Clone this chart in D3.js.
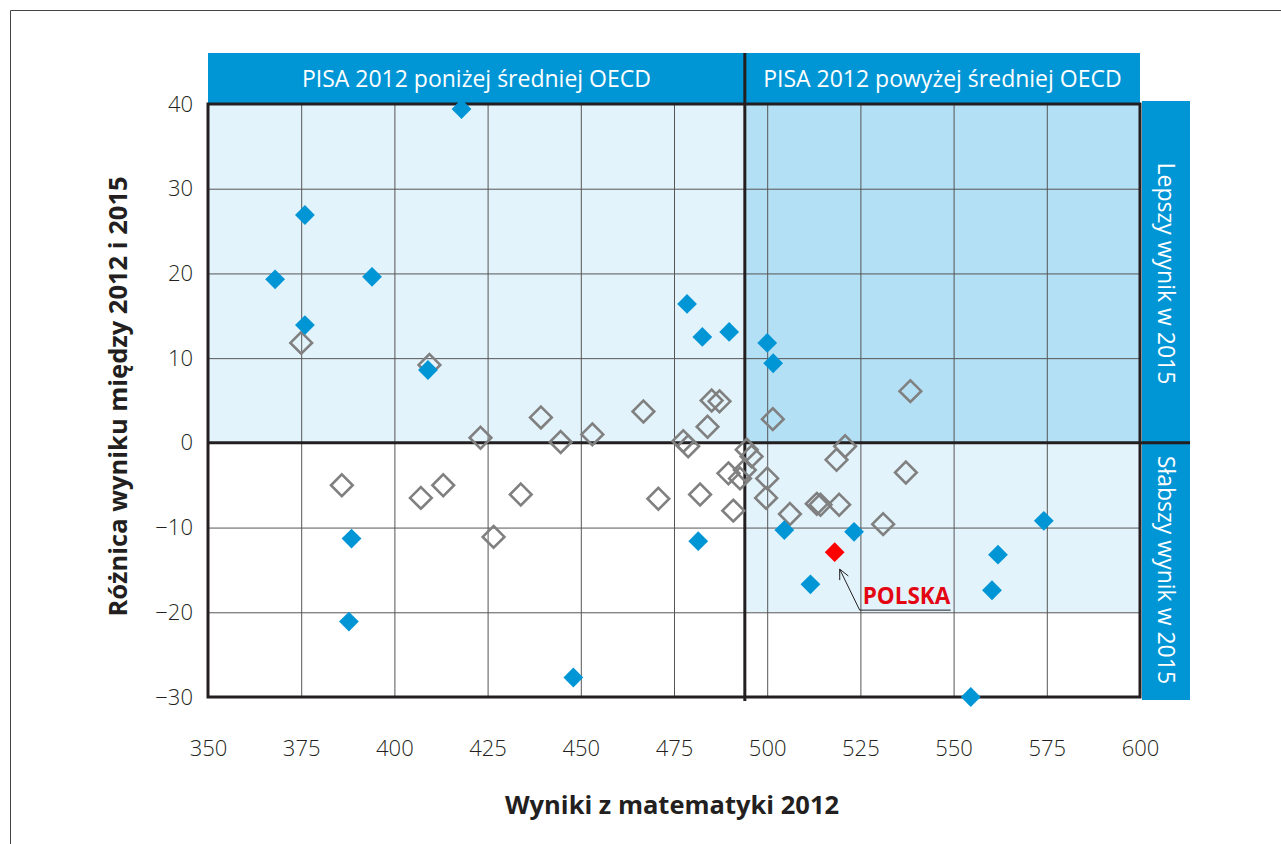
<!DOCTYPE html>
<html>
<head>
<meta charset="utf-8">
<script src="https://cdn.jsdelivr.net/npm/d3@7"></script>
<style>
  body { margin: 0; background: #fff; }
  svg { display: block; font-family: "Open Sans", "Noto Sans", sans-serif; }
  .tick text { fill: #231f20; font-size: 22px; font-weight: 300; font-family: "Open Sans", "Noto Sans", sans-serif; }
  .grid line { stroke: #555; stroke-width: 1; }
  .grid path { display: none; }
</style>
</head>
<body>
<svg width="1281" height="844"></svg>
<script>
// wyniki istotnie zmienione (niebieskie)
var sigMath = [418, 376, 368, 394, 376, 409, 478.5, 482.6, 489.8, 500, 501.6, 504.6, 523.3, 511.6, 481.5, 448, 388.5, 387.8, 574.2, 561.9, 560.3, 554.6];
var sigDiff = [39.4, 26.9, 19.3, 19.6, 13.9, 8.6, 16.4, 12.5, 13.1, 11.8, 9.4, -10.3, -10.5, -16.7, -11.6, -27.7, -11.3, -21.1, -9.2, -13.2, -17.4, -30];

// zmiany nieistotne (puste romby)
var nsMath = [375, 409.4, 423.1, 439.3, 444.6, 453.1, 466.8, 485.1, 487.2, 484, 477.5, 478.8, 501.5, 538.4, 494.5, 495.8, 489.6, 492.7, 494, 500, 499.7, 470.8, 482, 490.9, 506.1, 513.3, 514.3, 519.3, 518.6, 520.9, 537.2, 531.1, 385.9, 407.1, 413.1, 433.9, 426.6];
var nsDiff = [11.8, 9.2, 0.6, 3.0, 0.1, 1.0, 3.7, 5.0, 4.9, 1.9, 0.2, -0.4, 2.8, 6.1, -0.8, -1.6, -3.6, -4.2, -3.2, -4.2, -6.5, -6.6, -6.1, -8.0, -8.4, -7.2, -7.3, -7.3, -2.0, -0.4, -3.5, -9.6, -5.0, -6.5, -5.0, -6.1, -11.1];

var poland = {math: 518.1, diff: -12.9, label: 'POLSKA'};
var oecdMean = 494;

var xTicks = [350, 375, 400, 425, 450, 475, 500, 525, 550, 575, 600];
var yTicks = [-30, -20, -10, 0, 10, 20, 30, 40];

var svg = d3.select('svg');

var xScale = d3.scaleLinear().domain([350, 600]).range([208, 1140]),
    yScale = d3.scaleLinear().domain([-30, 40]).range([697, 104]);

var x0 = xScale(350), x1 = xScale(600),
    yTop = yScale(40), yBot = yScale(-30),
    xm = xScale(oecdMean), y0 = yScale(0), yLow = yScale(-20);

var blue = '#0096d6';

// ramka obrazka
svg.append('path')
  .attr('d', 'M10.5,844 V10.5 H1281')
  .attr('fill', 'none')
  .attr('stroke', '#444')
  .attr('stroke-width', 1);

// tla cwiartek
svg.append('rect').attr('x', x0).attr('y', yTop).attr('width', xm - x0).attr('height', y0 - yTop).attr('fill', '#e3f3fb');
svg.append('rect').attr('x', xm).attr('y', yTop).attr('width', x1 - xm).attr('height', y0 - yTop).attr('fill', '#b3e0f4');
svg.append('rect').attr('x', xm).attr('y', y0).attr('width', x1 - xm).attr('height', yLow - y0).attr('fill', '#e3f3fb');

// siatka
svg.append('g')
  .attr('class', 'grid')
  .attr('transform', 'translate(0,' + yBot + ')')
  .call(d3.axisBottom(xScale).tickValues(xTicks.slice(1, -1)).tickSize(-(yBot - yTop)).tickFormat(''));
svg.append('g')
  .attr('class', 'grid')
  .attr('transform', 'translate(' + x0 + ',0)')
  .call(d3.axisLeft(yScale).tickValues(yTicks.slice(1, -1)).tickSize(-(x1 - x0)).tickFormat(''));

// naglowki
svg.append('rect').attr('x', x0).attr('y', 53).attr('width', x1 - x0).attr('height', yTop - 53).attr('fill', blue);
svg.append('rect').attr('x', x1 + 2).attr('y', yTop - 3).attr('width', 48).attr('height', yBot - yTop + 6).attr('fill', blue);

svg.append('text')
  .attr('x', (x0 + xm) / 2).attr('y', 87)
  .attr('text-anchor', 'middle').attr('fill', '#fff').style('font-size', '23px')
  .text('PISA 2012 poniżej średniej OECD');
svg.append('text')
  .attr('x', (xm + x1) / 2).attr('y', 87)
  .attr('text-anchor', 'middle').attr('fill', '#fff').style('font-size', '23px')
  .text('PISA 2012 powyżej średniej OECD');

svg.append('text')
  .attr('transform', 'translate(' + (x1 + 18) + ',' + ((yTop + y0) / 2) + ') rotate(90)')
  .attr('text-anchor', 'middle').attr('fill', '#fff').style('font-size', '23px')
  .text('Lepszy wynik w 2015');
svg.append('text')
  .attr('transform', 'translate(' + (x1 + 18) + ',' + ((y0 + yBot) / 2) + ') rotate(90)')
  .attr('text-anchor', 'middle').attr('fill', '#fff').style('font-size', '23px')
  .text('Słabszy wynik w 2015');

// ramka wykresu i linie podzialu
svg.append('rect')
  .attr('x', x0).attr('y', yTop).attr('width', x1 - x0).attr('height', yBot - yTop)
  .attr('fill', 'none').attr('stroke', '#231f20').attr('stroke-width', 3);
svg.append('line')
  .attr('x1', xm).attr('x2', xm).attr('y1', 53).attr('y2', yBot + 4)
  .attr('stroke', '#231f20').attr('stroke-width', 3);
svg.append('line')
  .attr('x1', x0).attr('x2', x1 + 50).attr('y1', y0).attr('y2', y0)
  .attr('stroke', '#231f20').attr('stroke-width', 3);

// osie
var xAxis = svg.append('g')
  .attr('transform', 'translate(0,' + (yBot + 43) + ')')
  .call(d3.axisBottom(xScale).tickValues(xTicks).tickSize(0).tickPadding(0));
xAxis.select('.domain').remove();

var yAxis = svg.append('g')
  .attr('transform', 'translate(' + (x0 - 15) + ',0)')
  .call(d3.axisLeft(yScale).tickValues(yTicks).tickSize(0).tickPadding(0));
yAxis.select('.domain').remove();

svg.append('text')
  .attr('x', (x0 + x1) / 2 - 2).attr('y', 814)
  .attr('text-anchor', 'middle').attr('fill', '#231f20')
  .style('font-size', '25.5px').style('font-weight', 'bold')
  .text('Wyniki z matematyki 2012');

svg.append('text')
  .attr('transform', 'translate(127,' + ((yTop + yBot) / 2 - 4) + ') rotate(-90)')
  .attr('text-anchor', 'middle').attr('fill', '#231f20')
  .style('font-size', '25.5px').style('font-weight', 'bold')
  .text('Różnica wyniku między 2012 i 2015');

// punkty
var diamond = d3.symbol().type(d3.symbolDiamond2);

var nsData = nsMath.map(function(m, i) { return {math: m, diff: nsDiff[i]}; });
var sigData = sigMath.map(function(m, i) { return {math: m, diff: sigDiff[i]}; });

svg.selectAll('path.ns')
  .data(nsData)
  .enter()
  .append('path')
  .attr('class', 'ns')
  .attr('d', diamond.size(300)())
  .attr('transform', function(d) { return 'translate(' + xScale(d.math) + ',' + yScale(d.diff) + ')'; })
  .attr('fill', 'none')
  .attr('stroke', '#808080')
  .attr('stroke-width', 2.6);

svg.selectAll('path.sig')
  .data(sigData)
  .enter()
  .append('path')
  .attr('class', 'sig')
  .attr('d', diamond.size(250)())
  .attr('transform', function(d) { return 'translate(' + xScale(d.math) + ',' + yScale(d.diff) + ')'; })
  .attr('fill', blue);

var px = xScale(poland.math), py = yScale(poland.diff);
svg.append('path')
  .attr('d', diamond.size(250)())
  .attr('transform', 'translate(' + px + ',' + py + ')')
  .attr('fill', '#ff0000');

// adnotacja POLSKA
var tipX = px + 5, tipY = py + 17, tailX = px + 25, tailY = py + 58;
var ang = Math.atan2(tipY - tailY, tipX - tailX);
svg.append('path')
  .attr('d', 'M' + tailX + ',' + tailY + ' L' + tipX + ',' + tipY +
    ' M' + (tipX - 11 * Math.cos(ang - 0.45)) + ',' + (tipY - 11 * Math.sin(ang - 0.45)) +
    ' L' + tipX + ',' + tipY +
    ' L' + (tipX - 11 * Math.cos(ang + 0.45)) + ',' + (tipY - 11 * Math.sin(ang + 0.45)))
  .attr('fill', 'none').attr('stroke', '#231f20').attr('stroke-width', 1);
svg.append('line')
  .attr('x1', tailX).attr('x2', tailX + 91).attr('y1', tailY).attr('y2', tailY)
  .attr('stroke', '#231f20').attr('stroke-width', 1);
svg.append('text')
  .attr('x', tailX + 3).attr('y', tailY - 6)
  .attr('fill', '#e30613')
  .style('font-size', '22.5px').style('font-weight', 'bold')
  .text(poland.label);
</script>
</body>
</html>
